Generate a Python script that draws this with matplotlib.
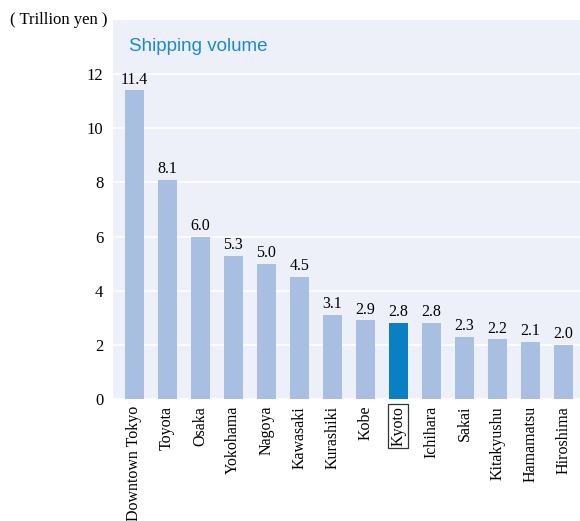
import matplotlib
matplotlib.use("Agg")
import matplotlib.pyplot as plt

cities = ["Downtown Tokyo", "Toyota", "Osaka", "Yokohama", "Nagoya", "Kawasaki",
          "Kurashiki", "Kobe", "Kyoto", "Ichihara", "Sakai", "Kitakyushu",
          "Hamamatsu", "Hiroshima"]
values = [11.4, 8.1, 6.0, 5.3, 5.0, 4.5, 3.1, 2.9, 2.8, 2.8, 2.3, 2.2, 2.1, 2.0]
highlight = "Kyoto"
yticks = [0, 2, 4, 6, 8, 10, 12]

plt.rcParams['font.family'] = ['Liberation Serif', 'DejaVu Serif']

fig = plt.figure(figsize=(5.8, 5.21), dpi=100)
ax = fig.add_axes([113/580, 1 - 399/521, 1 - 113/580, (399 - 20)/521])
ax.set_facecolor("#EDF0F9")

x = list(range(len(cities)))
colors = ["#0A80C4" if c == highlight else "#A9BFE2" for c in cities]
ax.bar(x, values, width=0.58, color=colors, zorder=3)

for xi, v in zip(x, values):
    ax.text(xi, v + 0.1, f"{v:.1f}", ha="center", va="bottom", fontsize=11.5, zorder=4)

ax.set_ylim(0, 14)
ax.set_xlim(-0.64, 13.5)
ax.set_yticks(yticks)
ax.set_yticklabels([str(t) for t in yticks], fontsize=12)
ax.yaxis.grid(True, color="white", linewidth=1.2, zorder=1)
ax.set_axisbelow(True)
ax.tick_params(axis="y", length=0, pad=7)
ax.tick_params(axis="x", length=0, pad=5)
ax.set_xticks(x)
ax.set_xticklabels(cities, rotation=90, fontsize=11.5, va="top", ha="center")
for lbl in ax.get_xticklabels():
    if lbl.get_text() == highlight:
        lbl.set_bbox(dict(facecolor="white", edgecolor="#333333", linewidth=0.9, pad=1.5))
for s in ax.spines.values():
    s.set_visible(False)

ax.text(0.035, 0.93, "Shipping volume", transform=ax.transAxes, ha="left", va="center",
        fontsize=13.5, color="#1A8AD0", family=["Liberation Sans", "DejaVu Sans"])
fig.text(10/580, 1 - 20/521, "( Trillion yen )", ha="left", va="center", fontsize=12)

fig.savefig("out.png", dpi=100)
